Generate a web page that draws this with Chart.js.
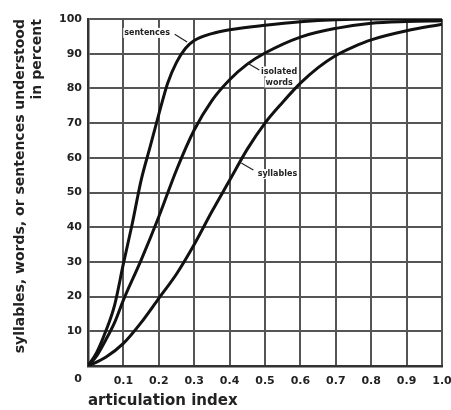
<!DOCTYPE html>
<html>
<head>
<meta charset="utf-8">
<script src="https://cdn.jsdelivr.net/npm/chart.js@4"></script>
<style>
  body { margin: 0; background: #fff; }
  #wrap { width: 451px; height: 410px; }
</style>
</head>
<body>
<div id="wrap"><canvas id="myChart"></canvas></div>
<script>
// articulation index (x) and percent understood (y)
const sentencesX = [0, 0.025, 0.05, 0.075, 0.1, 0.125, 0.15, 0.175, 0.2, 0.225, 0.25, 0.275, 0.3, 0.35, 0.4, 0.5, 0.6, 0.7, 0.8, 0.9, 1.0];
const sentencesY = [0, 4, 10, 17.5, 29.5, 41, 53.5, 63, 72.5, 81.5, 87.5, 91.5, 93.8, 95.8, 96.9, 98.2, 99.2, 99.8, 100, 100, 100];

const wordsX = [0, 0.025, 0.05, 0.075, 0.1, 0.15, 0.2, 0.25, 0.3, 0.35, 0.4, 0.45, 0.5, 0.6, 0.7, 0.8, 0.9, 1.0];
const wordsY = [0, 3, 7.5, 12.5, 19, 30.5, 43, 56.5, 68, 76.5, 82.5, 87, 90.2, 94.8, 97.3, 98.8, 99.3, 99.5];

const syllablesX = [0, 0.05, 0.1, 0.15, 0.2, 0.25, 0.3, 0.35, 0.4, 0.45, 0.5, 0.55, 0.6, 0.65, 0.7, 0.75, 0.8, 0.9, 1.0];
const syllablesY = [0, 2.5, 6.5, 12.5, 19.5, 26.5, 35, 44.5, 53.5, 62.5, 70, 76, 81.5, 86, 89.5, 92, 94, 96.6, 98.5];

const xTicks = [0, 0.1, 0.2, 0.3, 0.4, 0.5, 0.6, 0.7, 0.8, 0.9, 1.0];
const yTicks = [0, 10, 20, 30, 40, 50, 60, 70, 80, 90, 100];

// curve labels: text lines, where they sit, and the little leader line
const curveLabels = [
    { lines: ['sentences'], x: 0.167, y: 96, from: [0.245, 95.6], to: [0.28, 93.4] },
    { lines: ['isolated', 'words'], x: 0.54, y: 83.3, from: [0.45, 87.3], to: [0.484, 85.3] },
    { lines: ['syllables'], x: 0.535, y: 55.3, from: [0.433, 58.5], to: [0.467, 56.5] }
];

function toPoints(xs, ys) {
    return xs.map((x, i) => ({ x: x, y: ys[i] }));
}

const tickFont = { family: 'DejaVu Sans', weight: 'bold', size: 11 };
const titleFont = { family: 'DejaVu Sans', weight: 'bold', size: 14 };

const labelPlugin = {
    id: 'curveLabels',
    afterDatasetsDraw(chart) {
        const ctx = chart.ctx;
        const xs = chart.scales.x, ys = chart.scales.y;
        ctx.save();
        ctx.fillStyle = '#222';
        ctx.strokeStyle = '#222';
        ctx.lineWidth = 1.2;
        ctx.font = 'bold 8px "DejaVu Sans"';
        ctx.textAlign = 'center';
        ctx.textBaseline = 'middle';
        curveLabels.forEach(l => {
            const px = xs.getPixelForValue(l.x);
            const py = ys.getPixelForValue(l.y);
            const h = 11;
            l.lines.forEach((t, i) => {
                const w = ctx.measureText(t).width;
                const ty = py + (i - (l.lines.length - 1) / 2) * h;
                ctx.fillStyle = '#fff';
                ctx.fillRect(px - w / 2 - 1, ty - 5, w + 2, 10);
                ctx.fillStyle = '#222';
                ctx.fillText(t, px, ty);
            });
            ctx.beginPath();
            ctx.moveTo(xs.getPixelForValue(l.from[0]), ys.getPixelForValue(l.from[1]));
            ctx.lineTo(xs.getPixelForValue(l.to[0]), ys.getPixelForValue(l.to[1]));
            ctx.stroke();
        });
        // the shared "0" at the corner
        ctx.font = 'bold 11px "DejaVu Sans"';
        ctx.textAlign = 'right';
        ctx.fillText('0', xs.getPixelForValue(0) - 6, ys.getPixelForValue(0) + 13);
        ctx.restore();
    }
};

const lineStyle = {
    borderColor: '#111',
    borderWidth: 3,
    pointRadius: 0,
    fill: false,
    cubicInterpolationMode: 'monotone'
};

const data = {
    datasets: [
        Object.assign({ label: 'sentences', data: toPoints(sentencesX, sentencesY) }, lineStyle),
        Object.assign({ label: 'isolated words', data: toPoints(wordsX, wordsY) }, lineStyle),
        Object.assign({ label: 'syllables', data: toPoints(syllablesX, syllablesY) }, lineStyle)
    ]
};

const config = {
    type: 'line',
    data: data,
    options: {
        responsive: true,
        maintainAspectRatio: false,
        animation: false,
        layout: { padding: { top: 19, right: 0, left: 0, bottom: 0 } },
        plugins: {
            legend: { display: false },
            tooltip: { enabled: false }
        },
        scales: {
            x: {
                type: 'linear',
                min: 0,
                max: 1,
                afterBuildTicks: s => { s.ticks = xTicks.map(v => ({ value: v })); },
                afterFit: s => { s.height = 44; s.paddingRight = 9; },
                grid: { color: '#555', lineWidth: 2, drawTicks: false },
                border: { color: '#333', width: 2.5 },
                ticks: {
                    color: '#222',
                    font: tickFont,
                    padding: 9,
                    maxRotation: 0,
                    callback: v => v === 0 ? '' : v.toFixed(1)
                },
                title: {
                    display: true,
                    text: 'articulation index',
                    align: 'start',
                    color: '#222',
                    font: { family: 'DejaVu Sans', weight: 'bold', size: 15 },
                    padding: { top: 0, bottom: 0 }
                }
            },
            y: {
                type: 'linear',
                min: 0,
                max: 100,
                afterBuildTicks: s => { s.ticks = yTicks.map(v => ({ value: v })); },
                afterFit: s => { s.width = 88; },
                grid: { color: '#555', lineWidth: 2, drawTicks: false },
                border: { color: '#333', width: 2.5 },
                ticks: {
                    color: '#222',
                    font: tickFont,
                    padding: 6,
                    callback: v => v === 0 ? '' : String(v)
                },
                title: {
                    display: true,
                    text: ['syllables, words, or sentences understood', 'in percent'],
                    align: 'end',
                    color: '#222',
                    font: titleFont,
                    padding: { top: 12, bottom: 0 }
                }
            }
        }
    },
    plugins: [labelPlugin]
};

const myChart = new Chart(document.getElementById('myChart'), config);
</script>
</body>
</html>
